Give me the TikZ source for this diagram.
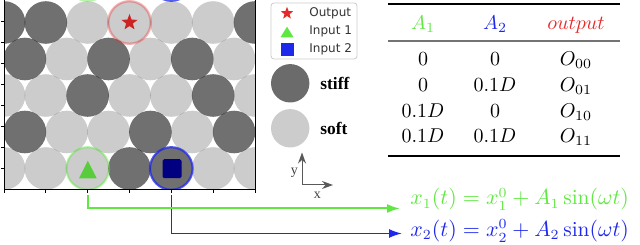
\documentclass[tikz,border=0pt]{standalone}
\usepackage{fontspec}
\newfontfamily\legfont{DejaVu Sans}
\newfontfamily\labfont{Liberation Serif}
\usetikzlibrary{shapes.geometric,arrows.meta}
\definecolor{ingreen}{RGB}{96,232,66}
\definecolor{triagreen}{RGB}{88,204,60}
\definecolor{inblue}{RGB}{30,40,235}
\definecolor{outred}{RGB}{232,40,40}
\definecolor{starred}{RGB}{204,34,34}
\definecolor{sqnavy}{RGB}{0,0,128}
\begin{document}
\begin{tikzpicture}[x=.5pt,y=.5pt, every node/.style={inner sep=0pt},
    stiffdisc/.style={fill=black,fill opacity=.56},
    softdisc/.style={fill=black,fill opacity=.2},
    eqn/.style={anchor=base west,font=\fontsize{10.7}{13}\selectfont},
    legtext/.style={anchor=west,text=black!80,font=\legfont\fontsize{6}{7}\selectfont},
    mattext/.style={anchor=west,font=\labfont\bfseries\fontsize{8.7}{10}\selectfont},
    axlabel/.style={font=\labfont\fontsize{7}{8}\selectfont,text=black!75},
    axarrow/.style={black!65,line width=.5pt,-{Stealth[length=5.5pt,width=4pt]}},
    tabrule/.style={line width=.8pt}]
  \useasboundingbox (0,0) rectangle (640,245);
  \begin{scope}
    \clip (4,55) rectangle (255,245);
    \foreach \j/\row in {0/{0,0,0,1,1,0,0},1/{1,0,0,1,0,1},2/{0,0,1,0,0,1,0},3/{1,0,1,0,1,0},4/{1,1,0,0,0,0,1}} {
      \pgfmathsetmacro{\off}{mod(\j,2)*20.9}
      \foreach \s [count=\k from 0] in \row {
        \ifnum\s=1
          \fill[stiffdisc] (4+\off+41.83*\k,76.5+36.5*\j) circle (21.3);
        \else
          \fill[softdisc] (4+\off+41.83*\k,76.5+36.5*\j) circle (21.3);
        \fi
      }
    }
    \foreach \dy in {0,189} {
      \draw[ingreen,draw opacity=.45,line width=1.1pt] (87.7,76.5+\dy) circle (21.3);
      \draw[inblue,draw opacity=.75,line width=1.1pt] (171.3,76.5+\dy) circle (21.3);
      \draw[outred,draw opacity=.35,line width=1.2pt] (129.5,222.5-\dy) circle (21.3);
    }
  \end{scope}
  \node[star,star points=5,star point ratio=2.4,fill=starred,minimum size=8.5pt] (out) at (129.5,222.5) {};
  \fill[triagreen] (79,66.7) -- (96.7,66.7) -- (87.8,84.3) -- cycle;
  \fill[sqnavy,rounded corners=.8pt] (162.5,66.8) rectangle (181.5,85.8);
  \draw[line width=.5pt] (4,245) -- (4,55) -- (255,55) -- (255,245);
  \foreach \m in {1,...,8}
    \draw[line width=.4pt] (4,55+21.1*\m) -- ++(-3,0);
  \foreach \k in {0,...,6}
    \draw[line width=.4pt] (4+41.83*\k,55) -- ++(0,-3);
  \coordinate (tick1) at (87.7,50);
  \coordinate (tip1) at (400,36.5);
  \coordinate (tick2) at (171.3,50);
  \coordinate (tip2) at (402,11.5);
  \draw[inblue,line width=.8pt,-{Latex[length=6.5pt,width=4.5pt]}] (tick2) |- (tip2);
  \draw[ingreen,line width=1pt,-{Latex[length=6.5pt,width=4.5pt]}] (tick1) |- (tip1);
  \node[eqn,text=ingreen] (f1) at (410,40) {$x_1(t) = x_1^0 + A_1\sin(\omega t)$};
  \node[eqn,text=inblue] (f2) at (410,8.3) {$x_2(t) = x_2^0 + A_2\sin(\omega t)$};
  \draw[black!20,fill=white,rounded corners=1.5pt] (271,186) rectangle (357,242);
  \node[star,star points=5,star point ratio=2.4,fill=outred,minimum size=6.5pt] (lout) at (287,231.7) {};
  \fill[ingreen] (280.5,207.7) -- (293.5,207.7) -- (287,218.3) -- cycle;
  \fill[inblue] (280.5,189.3) rectangle (293.5,201.7);
  \node[legtext] (tout) at (309,231.7) {Output};
  \node[legtext] (tin1) at (309,213.3) {Input 1};
  \node[legtext] (tin2) at (309,195.3) {Input 2};
  \fill[black!58] (290.2,161.7) circle (19.2);
  \fill[black!20] (290.2,116.7) circle (19.2);
  \node[mattext] (tstiff) at (320,161.7) {stiff};
  \node[mattext] (tsoft) at (320,116.7) {soft};
  \coordinate (ax0) at (302,60);
  \draw[axarrow] (ax0) -- ++(0,32.5);
  \draw[axarrow] (ax0) -- ++(31,0);
  \node[axlabel] (ly) at (294.3,72) {y};
  \node[axlabel] (lx) at (317.3,50) {x};
  \draw[tabrule] (388,241) -- (620,241);
  \draw[tabrule,black!55] (388,204) -- (620,204);
  \draw[tabrule] (388,89) -- (620,89);
  \node[anchor=base,text=ingreen] (hA1) at (423,215.7) {$A_1$};
  \node[anchor=base,text=inblue] (hA2) at (495,215.7) {$A_2$};
  \node[anchor=base,text=outred] (hout) at (576,215.7) {$output$};
  \foreach \y/\a/\b/\o [count=\i] in {179/0/0/00,153.4/0/0.1D/01,127.8/0.1D/0/10,102.2/0.1D/0.1D/11} {
    \node[anchor=base] (a\i) at (423,\y) {$\a$};
    \node[anchor=base] (b\i) at (495,\y) {$\b$};
    \node[anchor=base] (o\i) at (576,\y) {$O_{\o}$};
  }
\end{tikzpicture}
\end{document}
